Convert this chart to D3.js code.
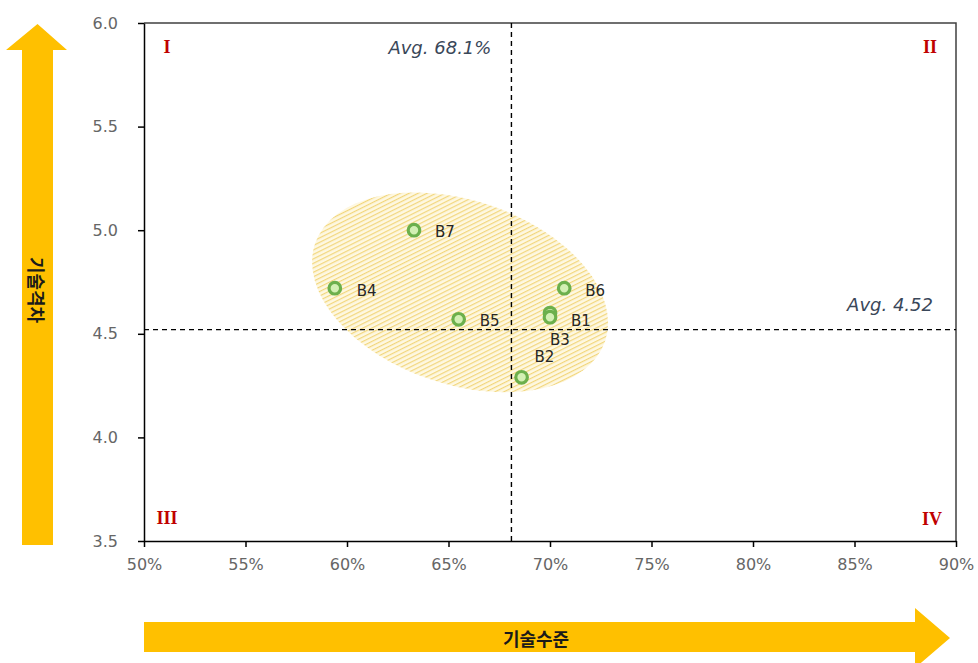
<!DOCTYPE html>
<html>
<head>
<meta charset="utf-8">
<script src="https://cdn.jsdelivr.net/npm/d3@7"></script>
<style>
  html, body { margin: 0; padding: 0; background: #fff; }
  svg { display: block; }
</style>
</head>
<body>
<svg id="chart" width="978" height="663"></svg>
<script>
// Technology level (x) vs. technology gap (y) per company
const names = ["B1", "B2", "B3", "B4", "B5", "B6", "B7"];
const techLevel = [0.700, 0.686, 0.700, 0.594, 0.655, 0.707, 0.633];
const techGap = [4.60, 4.29, 4.58, 4.72, 4.57, 4.72, 5.00];

const xTicks = [0.50, 0.55, 0.60, 0.65, 0.70, 0.75, 0.80, 0.85, 0.90];
const yTicks = [3.5, 4.0, 4.5, 5.0, 5.5, 6.0];
const avgLevel = 0.681;
const avgGap = 4.52;
const quadrants = ["I", "II", "III", "IV"];
const xTitle = "기술수준";
const yTitle = "기술격차";

// cluster outline centre (data units)
const clusterCentre = [0.6557, 4.70];

const svg = d3.select("#chart");
const plotLeft = 144, plotRight = 956, plotTop = 23, plotBottom = 541;

const x = d3.scaleLinear().domain([0.5, 0.9]).range([plotLeft, plotRight]);
const y = d3.scaleLinear().domain([3.5, 6.0]).range([plotBottom, plotTop]);

// hatched fill for the cluster ellipse
const defs = svg.append("defs");
const pat = defs.append("pattern")
  .attr("id", "hatch")
  .attr("patternUnits", "userSpaceOnUse")
  .attr("width", 4).attr("height", 4)
  .attr("patternTransform", "rotate(45)");
pat.append("rect").attr("width", 4).attr("height", 4).attr("fill", "#fef8e2");
pat.append("rect").attr("width", 1.2).attr("height", 4).attr("fill", "#f2d67c");

// yellow direction arrows
const arrowColor = "#ffc000";
svg.append("path")
  .attr("d", "M22,545 L22,50 L6,50 L37.5,24 L67,50 L53,50 L53,545 Z")
  .attr("fill", arrowColor);
svg.append("path")
  .attr("d", "M144,622 L915,622 L915,608 L950,638 L915,668 L915,652 L144,652 Z")
  .attr("fill", arrowColor);

svg.append("text")
  .attr("x", 536).attr("y", 638)
  .attr("text-anchor", "middle").attr("dominant-baseline", "central")
  .attr("font-family", "'Noto Sans CJK KR', sans-serif")
  .attr("font-weight", "bold").attr("font-size", 18).attr("fill", "#1a1a1a")
  .text(xTitle);
svg.append("text")
  .attr("transform", "translate(37,290) rotate(90)")
  .attr("text-anchor", "middle").attr("dominant-baseline", "central")
  .attr("font-family", "'Noto Sans CJK KR', sans-serif")
  .attr("font-weight", "bold").attr("font-size", 18).attr("fill", "#1a1a1a")
  .text(yTitle);

// cluster ellipse
svg.append("ellipse")
  .attr("transform", `translate(${x(clusterCentre[0])},${y(clusterCentre[1])}) rotate(18.5)`)
  .attr("rx", 153).attr("ry", 92)
  .attr("fill", "url(#hatch)");

// plot frame (top and right)
svg.append("path")
  .attr("d", `M${plotLeft},${plotTop} L${plotRight},${plotTop} L${plotRight},${plotBottom}`)
  .attr("fill", "none").attr("stroke", "#404040").attr("stroke-width", 1.5);

// axes
const xAxis = d3.axisBottom(x).tickValues(xTicks)
  .tickFormat(d3.format(".0%")).tickSize(6).tickSizeOuter(0).tickPadding(12);
const yAxis = d3.axisLeft(y).tickValues(yTicks)
  .tickFormat(d3.format(".1f")).tickSize(6).tickSizeOuter(0).tickPadding(20);

const gx = svg.append("g").attr("transform", `translate(0,${plotBottom})`).call(xAxis);
const gy = svg.append("g").attr("transform", `translate(${plotLeft},0)`).call(yAxis);
[gx, gy].forEach(g => {
  g.attr("font-size", 16).attr("font-family", "'DejaVu Sans', Verdana, sans-serif");
  g.select(".domain").attr("stroke", "#000").attr("stroke-width", 1.5);
  g.selectAll(".tick line").attr("stroke", "#000").attr("stroke-width", 1.5);
  g.selectAll(".tick text").attr("fill", "#666");
});

// average lines
svg.append("line")
  .attr("x1", x(avgLevel)).attr("x2", x(avgLevel))
  .attr("y1", plotTop).attr("y2", plotBottom)
  .attr("stroke", "#000").attr("stroke-width", 1.4).attr("stroke-dasharray", "5,4");
svg.append("line")
  .attr("x1", plotLeft).attr("x2", plotRight)
  .attr("y1", y(avgGap)).attr("y2", y(avgGap))
  .attr("stroke", "#000").attr("stroke-width", 1.4).attr("stroke-dasharray", "5,4");

const avgFont = "'DejaVu Sans', Verdana, sans-serif";
svg.append("text")
  .attr("x", x(avgLevel) - 20).attr("y", 47)
  .attr("text-anchor", "end").attr("dominant-baseline", "central")
  .attr("font-family", avgFont).attr("font-style", "italic")
  .attr("font-size", 18).attr("fill", "#3a4759")
  .text(`Avg. ${d3.format(".1%")(avgLevel)}`);
svg.append("text")
  .attr("x", plotRight - 23).attr("y", y(avgGap) - 25)
  .attr("text-anchor", "end").attr("dominant-baseline", "central")
  .attr("font-family", avgFont).attr("font-style", "italic")
  .attr("font-size", 18).attr("fill", "#3a4759")
  .text(`Avg. ${avgGap.toFixed(2)}`);

// quadrant numerals
const quadPos = [
  [plotLeft + 23, plotTop + 24],
  [plotRight - 26, plotTop + 24],
  [plotLeft + 23, plotBottom - 23],
  [plotRight - 24, plotBottom - 22]
];
svg.selectAll("text.quad").data(quadrants).join("text")
  .attr("class", "quad")
  .attr("x", (d, i) => quadPos[i][0]).attr("y", (d, i) => quadPos[i][1])
  .attr("text-anchor", "middle").attr("dominant-baseline", "central")
  .attr("font-family", "'Liberation Serif', 'DejaVu Serif', serif")
  .attr("font-weight", "bold").attr("font-size", 18).attr("fill", "#c00000")
  .text(d => d);

// points
const pts = names.map((n, i) => ({ name: n, lv: techLevel[i], gap: techGap[i] }));
svg.selectAll("circle.pt").data(pts).join("circle")
  .attr("class", "pt")
  .attr("cx", d => x(d.lv)).attr("cy", d => y(d.gap))
  .attr("r", 5.8)
  .attr("fill", "#d3f0b4").attr("stroke", "#6cb04c").attr("stroke-width", 3.2);

// label offsets from each point
const labelOffset = {
  B1: [21, 8], B2: [13, -20], B3: [0, 23], B4: [22, 3],
  B5: [21, 2], B6: [21, 3], B7: [21, 2]
};
svg.selectAll("text.lbl").data(pts).join("text")
  .attr("class", "lbl")
  .attr("x", d => x(d.lv) + labelOffset[d.name][0])
  .attr("y", d => y(d.gap) + labelOffset[d.name][1])
  .attr("dominant-baseline", "central")
  .attr("font-family", "'DejaVu Sans', Verdana, sans-serif")
  .attr("font-size", 15).attr("fill", "#262626")
  .text(d => d.name);
</script>
</body>
</html>
